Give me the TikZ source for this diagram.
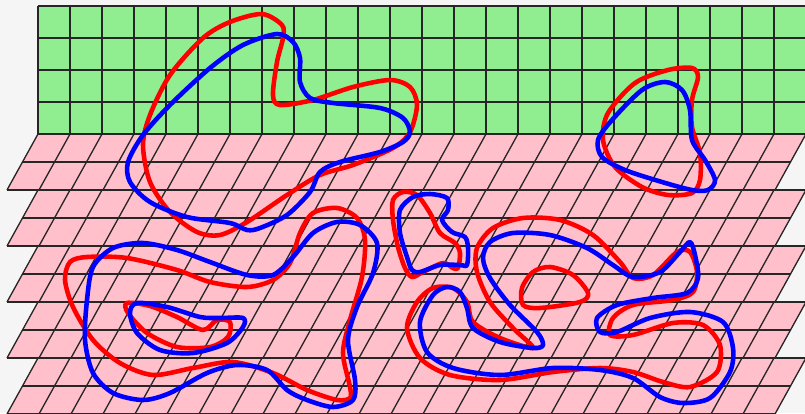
\documentclass[tikz,border=0pt]{standalone}
\definecolor{paneGreen}{HTML}{90EE90}
\definecolor{panePink}{HTML}{FFC0CB}
\tikzset{
  gridline/.style={black!85, line width=0.75pt},
  redloop/.style={red, line width=2.6pt, line join=round},
  blueloop/.style={blue, line width=2.6pt, line join=round}
}
\begin{document}
\begin{tikzpicture}[x=0.02cm, y=-0.02cm]
  \useasboundingbox (0,0) rectangle (805,413);
  % Background
  \fill[gray!8] (0,0) rectangle (805,413);
  % Green wall: 24 x 4 cells of 32px
  \fill[paneGreen] (38,6) rectangle (806,134);
  \foreach \k in {0,...,24}{
    \draw[gridline] (38+32*\k,6) -- (38+32*\k,134);
  }
  \foreach \j in {0,...,4}{
    \draw[gridline] (38,6+32*\j) -- (806,6+32*\j);
  }
  % Pink floor: five slanted sheets, two rows each
  \foreach \s in {0,...,4}{
    \pgfmathsetmacro{\yt}{134+56*\s}
    \fill[panePink] (38,\yt) -- (806,\yt) -- (775,\yt+56) -- (7,\yt+56) -- cycle;
    \draw[gridline] (22.5,\yt+28) -- (790.5,\yt+28);
    \foreach \k in {0,...,24}{
      \draw[gridline] (38+32*\k,\yt) -- (7+32*\k,\yt+56);
    }
    \draw[gridline] (38,\yt) -- (806,\yt);
    \draw[gridline] (7,\yt+56) -- (775,\yt+56);
  }
  % Red loops
  \draw[redloop] plot[smooth cycle] coordinates {
    (262,14) (282,25) (283,38) (277,62) (273,95) (280,105) (313,100) (353,87)
    (390,80) (410,87) (417,105) (410,132) (393,148) (353,165) (320,175) (287,195)
    (247,222) (220,235) (197,232) (170,212) (150,182) (143,145) (150,115) (170,75)
    (203,38) (230,22)};
  \draw[redloop] plot[smooth cycle] coordinates {
    (692,68) (698,77) (692,100) (692,127) (700,153) (700,180) (692,193) (668,195)
    (642,187) (615,167) (603,140) (608,113) (635,83) (668,70)};
  \draw[redloop] plot[smooth cycle] coordinates {
    (403,192) (417,195) (430,213) (440,233) (455,243) (460,253) (458,268) (453,268)
    (443,263) (423,272) (412,277) (405,268) (398,247) (393,220) (393,200)};
  \draw[redloop] plot[smooth cycle] coordinates {
    (523,218) (560,220) (593,235) (620,262) (633,278) (653,275) (677,252) (690,252)
    (697,272) (693,292) (673,300) (633,305) (613,318) (610,335) (633,335) (673,323)
    (703,325) (720,345) (717,372) (690,387) (663,382) (633,372) (600,368) (553,372)
    (500,380) (450,375) (420,358) (407,328) (417,302) (433,288) (453,288) (467,302)
    (473,322) (500,338) (533,348) (513,328) (490,302) (477,272) (477,248) (493,228)};
  \draw[redloop] plot[smooth cycle] coordinates {
    (550,267) (573,275) (588,293) (580,302) (540,308) (523,305) (522,288) (533,272)};
  \draw[redloop] plot[smooth cycle] coordinates {
    (87,257) (127,258) (177,270) (210,282) (247,287) (273,280) (290,263) (300,233)
    (313,213) (337,208) (357,218) (365,240) (362,277) (350,320) (343,353) (350,387)
    (350,398) (337,400) (307,390) (273,373) (233,362) (193,368) (153,375) (120,363)
    (93,340) (73,307) (65,280) (70,262)};
  \draw[redloop] plot[smooth cycle] coordinates {
    (127,303) (150,306) (177,317) (203,330) (217,320) (230,322) (228,337) (210,347)
    (177,347) (147,333) (128,313)};
  % Blue loops
  \draw[blueloop] plot[smooth cycle] coordinates {
    (277,34) (293,42) (300,58) (300,82) (310,98) (333,103) (380,108) (403,118)
    (410,132) (403,142) (380,152) (340,162) (320,172) (310,192) (287,215) (260,228)
    (247,230) (230,223) (187,217) (150,202) (130,182) (128,162) (143,135) (170,105)
    (210,68) (243,45)};
  \draw[blueloop] plot[smooth cycle] coordinates {
    (665,82) (682,90) (690,110) (692,140) (705,160) (715,180) (708,190) (692,190)
    (662,182) (625,170) (602,157) (598,140) (612,120) (642,90)};
  \draw[blueloop] plot[smooth cycle] coordinates {
    (413,197) (430,194) (447,198) (448,210) (442,220) (452,232) (465,237) (468,248)
    (467,265) (460,265) (440,265) (420,272) (412,270) (407,257) (400,233) (400,210)};
  \draw[blueloop] plot[smooth cycle] coordinates {
    (513,233) (550,235) (587,248) (613,265) (633,277) (660,272) (680,252) (690,242)
    (695,255) (698,278) (687,293) (653,298) (617,305) (597,318) (600,332) (617,332)
    (650,318) (690,312) (723,322) (733,348) (730,372) (710,398) (683,403) (660,397)
    (633,378) (600,370) (553,368) (500,375) (453,368) (427,352) (420,322) (433,295)
    (447,287) (460,292) (467,308) (473,328) (500,342) (533,348) (543,345) (537,332)
    (510,305) (490,278) (483,258) (490,242)};
  \draw[blueloop] plot[smooth cycle] coordinates {
    (143,243) (177,250) (210,262) (247,275) (273,275) (293,257) (313,233) (337,222)
    (360,225) (377,243) (373,273) (357,307) (348,340) (355,380) (353,400) (333,407)
    (307,400) (287,390) (267,370) (237,365) (207,373) (170,393) (143,400) (113,393)
    (93,373) (85,340) (87,300) (93,267) (113,248)};
  \draw[blueloop] plot[smooth cycle] coordinates {
    (137,303) (167,307) (200,317) (220,318) (243,318) (243,327) (227,343) (193,353)
    (160,350) (137,333) (130,313)};
\end{tikzpicture}
\end{document}
